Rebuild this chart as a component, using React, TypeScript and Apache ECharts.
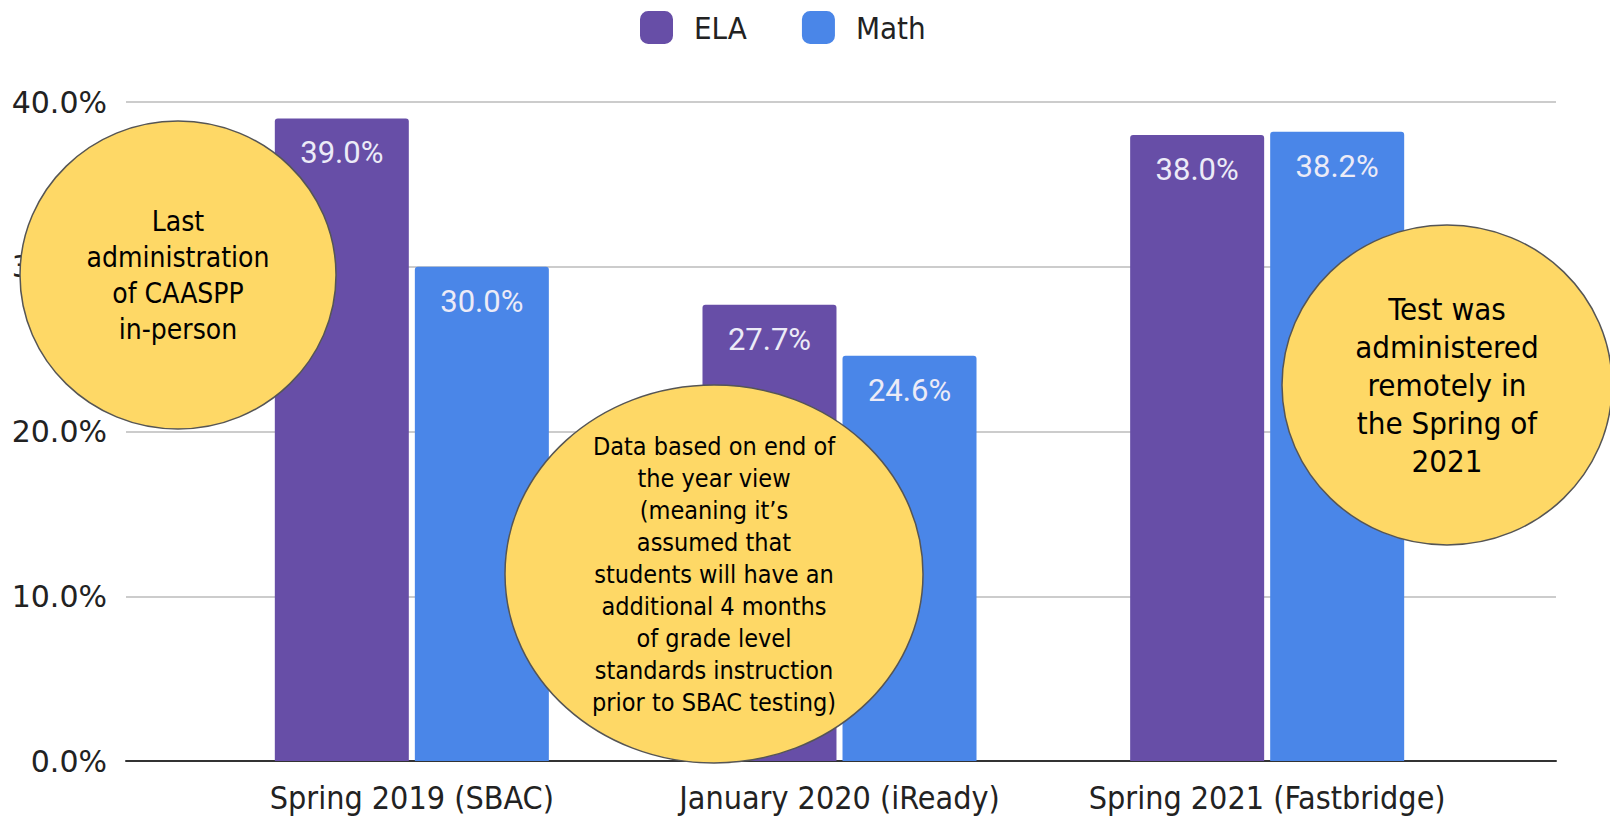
import React, { useEffect, useRef } from "react";
import * as echarts from "echarts";

const categories = ["Spring 2019 (SBAC)", "January 2020 (iReady)", "Spring 2021 (Fastbridge)"];
const elaValues = [39.0, 27.7, 38.0];
const mathValues = [30.0, 24.6, 38.2];
const yTicks = { min: 0, max: 40, interval: 10 };
const notes = [
  "Last\nadministration\nof CAASPP\nin-person",
  "Data based on end of\nthe year view\n(meaning it\u2019s\nassumed that\nstudents will have an\nadditional 4 months\nof grade level\nstandards instruction\nprior to SBAC testing)",
  "Test was\nadministered\nremotely in\nthe Spring of\n2021",
];

const COND = "'DejaVu Sans Condensed', 'Liberation Sans Narrow', 'DejaVu Sans', sans-serif";

export default function App() {
  const ref = useRef<HTMLDivElement>(null);
  useEffect(() => {
    if (!ref.current) return;
    const chart = echarts.init(ref.current, undefined, { renderer: "svg" });
    const bubble = (cx: number, cy: number, rx: number, ry: number, text: string, size: number, lh: number) => ({
      type: "group",
      z: 100,
      children: [
        {
          type: "ellipse",
          z: 100,
          shape: { cx, cy, rx, ry },
          style: { fill: "#fed866", stroke: "#555555", lineWidth: 1.5 },
        },
        {
          type: "text",
          z: 101,
          x: cx,
          y: cy,
          style: {
            text,
            fill: "#000000",
            font: `${size}px ${COND}`,
            textAlign: "center",
            textVerticalAlign: "middle",
            lineHeight: lh,
          },
        },
      ],
    });
    const labelCommon = {
      show: true,
      position: "insideTop",
      distance: 19,
      color: "#ecebf7",
      fontSize: 31,
      fontFamily: "Roboto, 'Liberation Sans', sans-serif",
      formatter: (p: any) => p.value.toFixed(1) + "%",
    };
    chart.setOption({
      animation: false,
      backgroundColor: "#ffffff",
      legend: {
        data: ["ELA", "Math"],
        left: 635,
        top: 6,
        icon: "roundRect",
        itemWidth: 33,
        itemHeight: 33,
        itemGap: 55,
        textStyle: { fontSize: 31, fontFamily: COND, color: "#222222", padding: [0, 0, 0, 16] },
      },
      grid: [
        { left: 126, right: 54, top: 102, bottom: 55 },
        { left: 198, right: 129, top: 102, bottom: 55 },
      ],
      xAxis: [
        {
          gridIndex: 0,
          type: "value",
          min: 0,
          max: 1,
          axisLabel: { show: false },
          axisTick: { show: false },
          splitLine: { show: false },
          axisLine: { show: true, lineStyle: { color: "#333333", width: 2 } },
        },
        {
          gridIndex: 1,
          type: "category",
          data: categories,
          axisLine: { show: false },
          axisTick: { show: false },
          axisLabel: { interval: 0, fontSize: 32, fontFamily: COND, color: "#222222", margin: 21 },
        },
      ],
      yAxis: [
        {
          gridIndex: 0,
          type: "value",
          min: yTicks.min,
          max: yTicks.max,
          interval: yTicks.interval,
          axisLine: { show: false },
          axisTick: { show: false },
          axisLabel: {
            fontSize: 30,
            fontFamily: "'DejaVu Sans', sans-serif",
            color: "#222222",
            margin: 19,
            formatter: (v: number) => v.toFixed(1) + "%",
          },
          splitLine: { lineStyle: { color: "#cccccc", width: 2 } },
        },
        {
          gridIndex: 1,
          type: "value",
          min: yTicks.min,
          max: yTicks.max,
          interval: yTicks.interval,
          show: false,
          splitLine: { show: false },
        },
      ],
      series: [
        {
          name: "ELA",
          type: "bar",
          xAxisIndex: 1,
          yAxisIndex: 1,
          data: elaValues,
          barWidth: 134,
          barGap: "4.5%",
          itemStyle: { color: "#674ea7", borderRadius: [3, 3, 0, 0] },
          label: labelCommon,
        },
        {
          name: "Math",
          type: "bar",
          xAxisIndex: 1,
          yAxisIndex: 1,
          data: mathValues,
          barWidth: 134,
          barGap: "4.5%",
          itemStyle: { color: "#4a86e8", borderRadius: [3, 3, 0, 0] },
          label: labelCommon,
        },
      ],
      graphic: [
        bubble(178, 275, 158, 154, notes[0], 28, 36),
        bubble(714, 574, 209, 189, notes[1], 25, 32),
        bubble(1447, 385, 165, 160, notes[2], 31, 38),
      ],
    });
    return () => chart.dispose();
  }, []);
  return (
    <div
      ref={ref}
      style={{ position: "fixed", left: 0, top: 0, width: 1610, height: 816, background: "#fff" }}
    />
  );
}
